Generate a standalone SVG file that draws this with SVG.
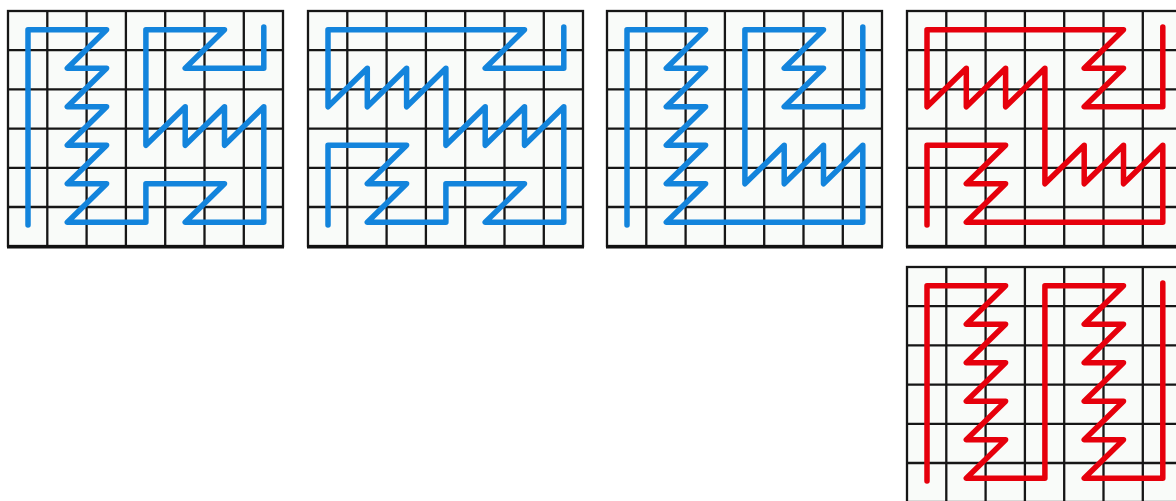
<svg xmlns="http://www.w3.org/2000/svg" width="1176" height="501" viewBox="0 0 1176 501">
  <style>
    .cellbg { fill: #f9fbf9; }
    .gl { stroke: #161616; stroke-width: 2.3; fill: none; }
    .gb { stroke: #111; stroke-width: 3.5; }
    .tour { fill: none; stroke-width: 5.5; stroke-linejoin: round; stroke-linecap: round; }
    .blue { stroke: #1384dc; }
    .red { stroke: #e6000c; }
  </style>
  <defs>
    <g id="grid">
      <rect class="cellbg" x="0" y="0" width="275" height="235"/>
      <path class="gl" d="M39.3,0V235 M78.6,0V235 M117.9,0V235 M157.2,0V235 M196.5,0V235 M235.8,0V235 M0,39.2H275 M0,78.4H275 M0,117.6H275 M0,156.8H275 M0,196H275"/>
      <rect class="gl" x="0" y="0" width="275" height="235"/>
      <line class="gb" x1="-1" y1="235.8" x2="276" y2="235.8"/>
    </g>
  </defs>
  <rect width="1176" height="501" fill="#ffffff"/>

  <g id="grid1" transform="translate(8,11)">
    <use href="#grid"/>
    <path class="tour blue" d="M20,214 V18.8 H98.6 L59.3,57.3 H98.6 L59.3,95.8 H98.6 L59.3,134.3 H98.6 L59.3,172.8 H98.6 L59.3,211.3 H137.9 V172.8 H216.5 L177.2,211.3 H255.8 V95.8 L216.5,134.3 V95.8 L177.2,134.3 V95.8 L137.9,134.3 V18.8 H216.5 L177.2,57.3 H255.8 V16"/>
  </g>

  <g id="grid2" transform="translate(308,11)">
    <use href="#grid"/>
    <path class="tour blue" d="M20,214 V134.3 H98.6 L59.3,172.8 H98.6 L59.3,211.3 H137.9 V172.8 H216.5 L177.2,211.3 H255.8 V95.8 L216.5,134.3 V95.8 L177.2,134.3 V95.8 L137.9,134.3 V57.3 L98.6,95.8 V57.3 L59.3,95.8 V57.3 L20,95.8 V18.8 H216.5 L177.2,57.3 H255.8 V16"/>
  </g>

  <g id="grid3" transform="translate(607,11)">
    <use href="#grid"/>
    <path class="tour blue" d="M20,214 V18.8 H98.6 L59.3,57.3 H98.6 L59.3,95.8 H98.6 L59.3,134.3 H98.6 L59.3,172.8 H98.6 L59.3,211.3 H255.8 V134.3 L216.5,172.8 V134.3 L177.2,172.8 V134.3 L137.9,172.8 V18.8 H216.5 L177.2,57.3 H216.5 L177.2,95.8 H255.8 V16"/>
  </g>

  <g id="grid4" transform="translate(907,11)">
    <use href="#grid"/>
    <path class="tour red" d="M20,214 V134.3 H98.6 L59.3,172.8 H98.6 L59.3,211.3 H255.8 V134.3 L216.5,172.8 V134.3 L177.2,172.8 V134.3 L137.9,172.8 V57.3 L98.6,95.8 V57.3 L59.3,95.8 V57.3 L20,95.8 V18.8 H216.5 L177.2,57.3 H216.5 L177.2,95.8 H255.8 V16"/>
  </g>

  <g id="grid5" transform="translate(907,267)">
    <use href="#grid"/>
    <path class="tour red" d="M20,214 V18.8 H98.6 L59.3,57.3 H98.6 L59.3,95.8 H98.6 L59.3,134.3 H98.6 L59.3,172.8 H98.6 L59.3,211.3 H137.9 V18.8 H216.5 L177.2,57.3 H216.5 L177.2,95.8 H216.5 L177.2,134.3 H216.5 L177.2,172.8 H216.5 L177.2,211.3 H255.8 V16"/>
  </g>

  <g id="connectors"/>
</svg>
